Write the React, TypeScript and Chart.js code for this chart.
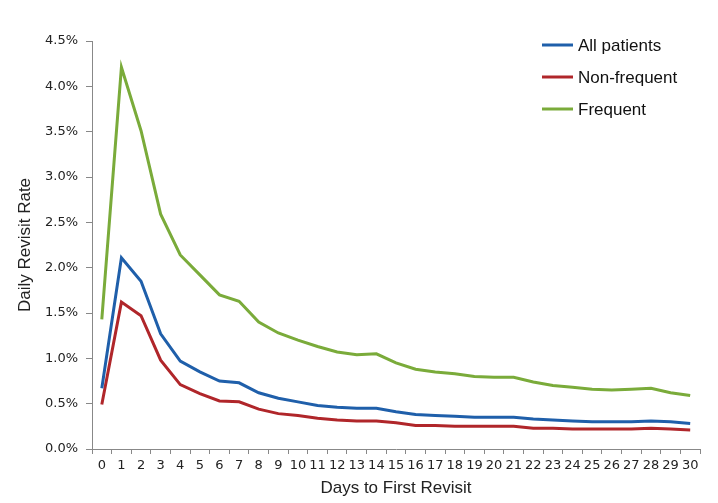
import React, { useEffect, useRef } from "react";
import { Chart, registerables } from "chart.js";

Chart.register(...registerables);

const days = Array.from({ length: 31 }, (_, i) => String(i));

const allPatients = [0.67, 2.11, 1.85, 1.27, 0.97, 0.85, 0.75, 0.73, 0.62, 0.56, 0.52, 0.48, 0.46, 0.45, 0.45, 0.41, 0.38, 0.37, 0.36, 0.35, 0.35, 0.35, 0.33, 0.32, 0.31, 0.3, 0.3, 0.3, 0.31, 0.3, 0.28];
const nonFrequent = [0.49, 1.62, 1.47, 0.98, 0.71, 0.61, 0.53, 0.52, 0.44, 0.39, 0.37, 0.34, 0.32, 0.31, 0.31, 0.29, 0.26, 0.26, 0.25, 0.25, 0.25, 0.25, 0.23, 0.23, 0.22, 0.22, 0.22, 0.22, 0.23, 0.22, 0.21];
const frequent = [1.43, 4.21, 3.51, 2.59, 2.14, 1.92, 1.7, 1.63, 1.4, 1.28, 1.2, 1.13, 1.07, 1.04, 1.05, 0.95, 0.88, 0.85, 0.83, 0.8, 0.79, 0.79, 0.74, 0.7, 0.68, 0.66, 0.65, 0.66, 0.67, 0.62, 0.59];

const seriesNames = ["All patients", "Non-frequent", "Frequent"];
const seriesColors = ["#1F5FAA", "#B0262A", "#7AAB3A"];

const legendPlugin = {
  id: "customLegend",
  afterDraw(chart: any) {
    const ctx = chart.ctx;
    const area = chart.chartArea;
    const x0 = area.right - 158;
    const y0 = area.top + 4;
    ctx.save();
    ctx.font = "17px 'Liberation Sans', Arial, sans-serif";
    ctx.textBaseline = "middle";
    chart.data.datasets.forEach((ds: any, i: number) => {
      const y = y0 + i * 32;
      ctx.strokeStyle = ds.borderColor;
      ctx.lineWidth = 3;
      ctx.beginPath();
      ctx.moveTo(x0, y);
      ctx.lineTo(x0 + 31, y);
      ctx.stroke();
      ctx.fillStyle = "#111";
      ctx.fillText(ds.label, x0 + 36, y + 1);
    });
    ctx.restore();
  },
};

export default function App() {
  const ref = useRef<HTMLCanvasElement>(null);
  useEffect(() => {
    document.body.style.margin = "0";
    const tickFont = { family: "'DejaVu Sans', Verdana, sans-serif", size: 13 };
    const titleFont = { family: "'Liberation Sans', Arial, sans-serif", size: 17 };
    const chart = new Chart(ref.current!, {
      type: "line",
      data: {
        labels: days,
        datasets: [allPatients, nonFrequent, frequent].map((d, i) => ({
          label: seriesNames[i],
          data: d,
          borderColor: seriesColors[i],
          backgroundColor: seriesColors[i],
          borderWidth: 3,
          pointRadius: 0,
          tension: 0,
          fill: false,
        })),
      },
      options: {
        animation: false,
        responsive: false,
        layout: { padding: { left: 10, right: 18, top: 41, bottom: 0 } },
        plugins: { legend: { display: false }, tooltip: { enabled: false } },
        scales: {
          x: {
            offset: true,
            grid: { offset: true, drawOnChartArea: false, drawTicks: true, tickLength: 5, color: "#888" },
            border: { color: "#888", width: 1 },
            ticks: { autoSkip: false, maxRotation: 0, color: "#222", font: tickFont, padding: 4 },
            title: { display: true, text: "Days to First Revisit", color: "#222", font: titleFont, padding: { top: 2, bottom: 4 } },
            afterFit: (s: any) => { s.height = 54; },
          },
          y: {
            min: 0,
            max: 4.5,
            grid: { drawOnChartArea: false, drawTicks: true, tickLength: 6, color: "#888" },
            border: { color: "#888", width: 1 },
            ticks: {
              stepSize: 0.5,
              color: "#222",
              font: tickFont,
              padding: 8,
              callback: (v: any) => Number(v).toFixed(1) + "%",
            },
            title: { display: true, text: "Daily Revisit Rate", color: "#222", font: titleFont, padding: { top: 5, bottom: 6 } },
            afterFit: (s: any) => { s.width = 82; },
          },
        },
      },
      plugins: [legendPlugin],
    });
    return () => chart.destroy();
  }, []);
  return (
    <div style={{ width: 718, height: 503 }}>
      <canvas ref={ref} width={718} height={503} style={{ display: "block" }} />
    </div>
  );
}
